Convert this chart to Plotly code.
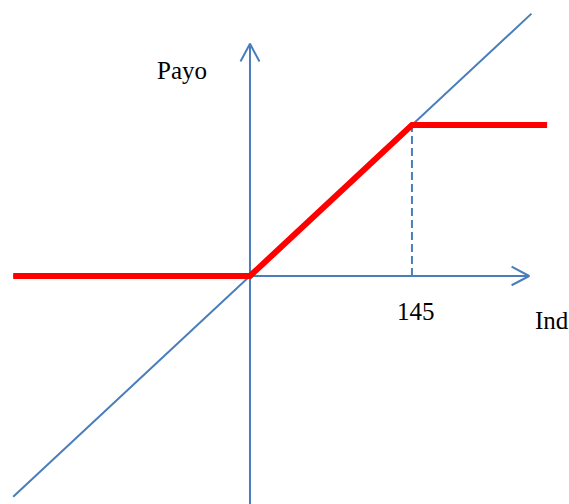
import plotly.graph_objects as go

# ---- data (index units) ----
strike = 145
payoff_cap = 145
diag_x = [-212, 252]
payoff_x = [-212, 0, strike, 266]
payoff_y = [0, 0, payoff_cap, payoff_cap]
x_axis_ends = [-212, 250]
y_axis_ends = [-219, 223]
labels = {"y": "Payo", "x": "Ind", "strike": "145"}

BLUE = "#4A7EBB"
RED = "#FF0000"
FONT = "Liberation Serif, Times New Roman, serif"

fig = go.Figure()

# diagonal y = x
fig.add_trace(go.Scatter(x=diag_x, y=diag_x, mode="lines",
                         line=dict(color=BLUE, width=2), hoverinfo="skip"))
# axes
fig.add_trace(go.Scatter(x=x_axis_ends, y=[0, 0], mode="lines",
                         line=dict(color=BLUE, width=2), hoverinfo="skip"))
fig.add_trace(go.Scatter(x=[0, 0], y=y_axis_ends, mode="lines",
                         line=dict(color=BLUE, width=2), hoverinfo="skip"))
# arrow chevrons
xt = x_axis_ends[1]
fig.add_trace(go.Scatter(x=[xt - 15.8, xt, xt - 15.8], y=[8.9, 0, -8.9], mode="lines",
                         line=dict(color=BLUE, width=2), hoverinfo="skip"))
yt = y_axis_ends[1]
fig.add_trace(go.Scatter(x=[-8.5, 0, 8.5], y=[yt - 17, yt, yt - 17], mode="lines",
                         line=dict(color=BLUE, width=2), hoverinfo="skip"))
# dashed strike line
fig.add_trace(go.Scatter(x=[strike, strike], y=[0, payoff_cap], mode="lines",
                         line=dict(color=BLUE, width=2, dash="8px,4px"), hoverinfo="skip"))
# payoff
fig.add_trace(go.Scatter(x=payoff_x, y=payoff_y, mode="lines",
                         line=dict(color=RED, width=6), hoverinfo="skip"))

fig.add_annotation(x=-61, y=197, text=labels["y"], showarrow=False,
                   font=dict(family=FONT, size=25, color="black"))
fig.add_annotation(x=149, y=-34, text=labels["strike"], showarrow=False,
                   font=dict(family=FONT, size=25, color="black"))
fig.add_annotation(x=270, y=-43, text=labels["x"], showarrow=False,
                   font=dict(family=FONT, size=25, color="black"))

fig.update_layout(
    width=569, height=504,
    margin=dict(l=0, r=0, t=0, b=0),
    paper_bgcolor="white", plot_bgcolor="white",
    showlegend=False,
    xaxis=dict(range=[-223.8, 285.6], visible=False, fixedrange=True),
    yaxis=dict(range=[-219.0, 265.1], visible=False, fixedrange=True),
)

fig.write_html("out.html", config={"displayModeBar": False},
               post_script="document.body.style.margin='0';document.body.style.overflow='hidden';")
